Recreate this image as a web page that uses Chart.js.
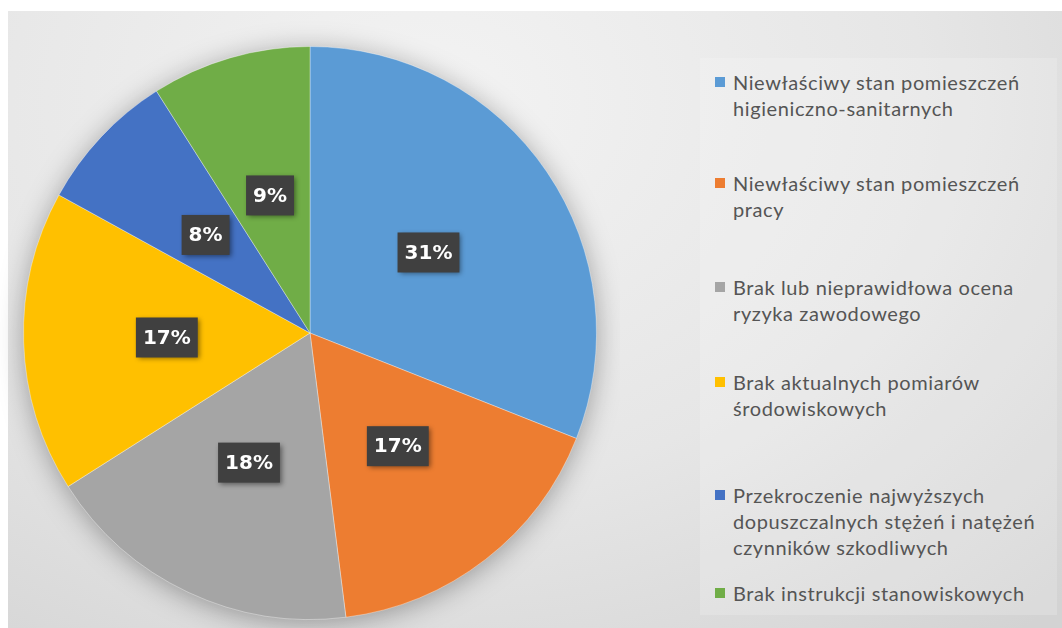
<!DOCTYPE html>
<html>
<head>
<meta charset="utf-8">
<script src="https://cdn.jsdelivr.net/npm/chart.js@4"></script>
<style>
  html, body { margin: 0; padding: 0; background: #fff; }
  #page { position: relative; width: 1062px; height: 628px; overflow: hidden; }
  #bg {
    position: absolute; left: 8px; top: 11px; width: 1054px; height: 617px;
    background: radial-gradient(ellipse 900px 700px at 40% 15%, #f3f3f3 0%, #e6e6e6 55%, #d3d3d3 100%);
  }
  #chart { position: absolute; left: 0; top: 0; }
  #legend {
    position: absolute; left: 700px; top: 58px; width: 357px; height: 557px;
    background: rgba(255, 255, 255, 0.18);
    font-family: Lato, "Open Sans", sans-serif; font-size: 20px; letter-spacing: 0.6px; color: #555555;
  }
  .item { position: absolute; left: 33px; line-height: 26px; white-space: nowrap; }
  .swatch { position: absolute; left: -18px; top: 8px; width: 10px; height: 10px; }
</style>
</head>
<body>
<div id="page">
  <div id="bg"></div>
  <canvas id="chart" width="620" height="628"></canvas>
  <div id="legend"></div>
</div>
<script>
const categories = [
  ["Niewłaściwy stan pomieszczeń", "higieniczno-sanitarnych"],
  ["Niewłaściwy stan pomieszczeń", "pracy"],
  ["Brak lub nieprawidłowa ocena", "ryzyka zawodowego"],
  ["Brak aktualnych pomiarów", "środowiskowych"],
  ["Przekroczenie najwyższych", "dopuszczalnych stężeń i natężeń", "czynników szkodliwych"],
  ["Brak instrukcji stanowiskowych"]
];
const values = [31, 17, 18, 17, 8, 9];
const colors = ["#5B9BD5", "#ED7D31", "#A5A5A5", "#FFC000", "#4472C4", "#70AD47"];

// legend item tops inside the legend box
const legendTops = [11, 112, 216, 311, 424, 522];

const pieShadow = {
  id: "pieShadow",
  beforeDatasetsDraw(chart) {
    const arc = chart.getDatasetMeta(0).data[0];
    if (!arc) return;
    const ctx = chart.ctx;
    ctx.save();
    ctx.shadowColor = "rgba(0,0,0,0.35)";
    ctx.shadowBlur = 28;
    ctx.shadowOffsetY = 4;
    ctx.fillStyle = "#cfcfcf";
    ctx.beginPath();
    ctx.arc(arc.x, arc.y, arc.outerRadius - 1, 0, Math.PI * 2);
    ctx.fill();
    ctx.restore();
  }
};

const boxLabels = {
  id: "boxLabels",
  afterDatasetsDraw(chart) {
    const ctx = chart.ctx;
    const meta = chart.getDatasetMeta(0);
    ctx.save();
    ctx.font = "bold 20px 'DejaVu Sans'";
    ctx.textAlign = "center";
    ctx.textBaseline = "middle";
    meta.data.forEach((arc, i) => {
      const p = arc.getCenterPoint();
      const text = values[i] + "%";
      const w = ctx.measureText(text).width + 14;
      const h = 40;
      ctx.save();
      ctx.shadowColor = "rgba(0,0,0,0.45)";
      ctx.shadowBlur = 5;
      ctx.shadowOffsetX = 2;
      ctx.shadowOffsetY = 2;
      ctx.fillStyle = "#404040";
      ctx.fillRect(p.x - w / 2, p.y - h / 2, w, h);
      ctx.restore();
      ctx.fillStyle = "#ffffff";
      ctx.fillText(text, p.x, p.y + 1);
    });
    ctx.restore();
  }
};

new Chart(document.getElementById("chart"), {
  type: "pie",
  data: {
    labels: categories,
    datasets: [{
      data: values,
      backgroundColor: colors,
      borderColor: "rgba(255,255,255,0.35)",
      borderWidth: 1
    }]
  },
  options: {
    responsive: false,
    animation: false,
    layout: { padding: { left: 23, right: 23, top: 46, bottom: 8 } },
    plugins: {
      legend: { display: false },
      tooltip: { enabled: false }
    }
  },
  plugins: [pieShadow, boxLabels]
});

const legend = document.getElementById("legend");
categories.forEach((lines, i) => {
  const item = document.createElement("div");
  item.className = "item";
  item.style.top = legendTops[i] + "px";
  const sw = document.createElement("span");
  sw.className = "swatch";
  sw.style.background = colors[i];
  item.appendChild(sw);
  lines.forEach((line, j) => {
    if (j > 0) item.appendChild(document.createElement("br"));
    item.appendChild(document.createTextNode(line));
  });
  legend.appendChild(item);
});
</script>
</body>
</html>
